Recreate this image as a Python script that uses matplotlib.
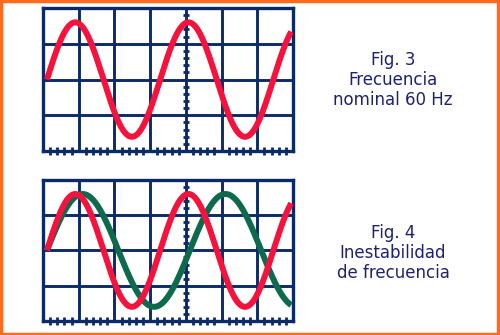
import numpy as np
import matplotlib.pyplot as plt

# oscilloscope screen: 7 x 4 divisions
n_div_x = 7
n_div_y = 4
marked_div = 4  # vertical line with sub-division ticks

# waves (units: divisions)
fig3_periods = [3.17]
fig3_amps = [1.6]
fig3_starts = [0.11]
fig3_colors = ["#f5123c"]

fig4_periods = [4.0, 3.17]
fig4_amps = [1.6, 1.6]
fig4_starts = [0.11, 0.11]
fig4_colors = ["#0d6a4c", "#f5123c"]

captions = ["Fig. 3\nFrecuencia\nnominal 60 Hz",
            "Fig. 4\nInestabilidad\nde frecuencia"]

navy = "#0b2a68"
text_col = "#1c2272"
orange = "#ff6a1e"


def dibujar_pantalla(ax, periods, amps, starts, colors):
    ax.set_xlim(0, n_div_x)
    ax.set_ylim(-n_div_y / 2, n_div_y / 2)
    ax.set_xticks([])
    ax.set_yticks([])
    for s in ax.spines.values():
        s.set_color(navy)
        s.set_linewidth(2.4)

    for i in range(1, n_div_x):
        ax.axvline(i, color=navy, lw=2.1, zorder=1)
    for j in range(1, n_div_y):
        ax.axhline(j - n_div_y / 2, color=navy, lw=2.1, zorder=1)

    # small ticks on the bottom edge and on the marked vertical line
    sub = np.arange(0, n_div_x, 0.2)
    sub = sub[np.abs(sub - np.round(sub)) > 0.05]
    ax.plot(sub, np.full(len(sub), -n_div_y / 2), ls="none",
            marker="|", ms=6, mew=2.0, color=navy, zorder=2, clip_on=False)
    suby = np.arange(-n_div_y / 2, n_div_y / 2, 0.2)
    suby = suby[np.abs(suby - np.round(suby)) > 0.05]
    ax.plot(np.full(len(suby), marked_div), suby, ls="none",
            marker="_", ms=5, mew=2.0, color=navy, zorder=2)

    x = np.linspace(starts[0], n_div_x - 0.05, 600)
    for p, a, x0, c in zip(periods, amps, starts, colors):
        xs = x[x >= x0]
        ax.plot(xs, a * np.sin(2 * np.pi * (xs - x0) / p), color=c,
                lw=4.3, solid_capstyle="butt", zorder=3)


fig = plt.figure(figsize=(5, 3.35), dpi=100)

ax1 = fig.add_axes([0.086, 0.549, 0.500, 0.427])
dibujar_pantalla(ax1, fig3_periods, fig3_amps, fig3_starts, fig3_colors)

ax2 = fig.add_axes([0.086, 0.042, 0.500, 0.421])
dibujar_pantalla(ax2, fig4_periods, fig4_amps, fig4_starts, fig4_colors)

fig.text(0.786, 1 - 80 / 335, captions[0], ha="center", va="center",
         color=text_col, fontsize=12, linespacing=1.15)
fig.text(0.786, 1 - 253 / 335, captions[1], ha="center", va="center",
         color=text_col, fontsize=12, linespacing=1.15)

# orange border round the whole picture
borde = plt.Rectangle((0.002, 0.003), 0.994, 0.994, transform=fig.transFigure,
                      fill=False, edgecolor=orange, lw=2.5)
fig.patches.append(borde)

fig.savefig("out.png", dpi=100)
